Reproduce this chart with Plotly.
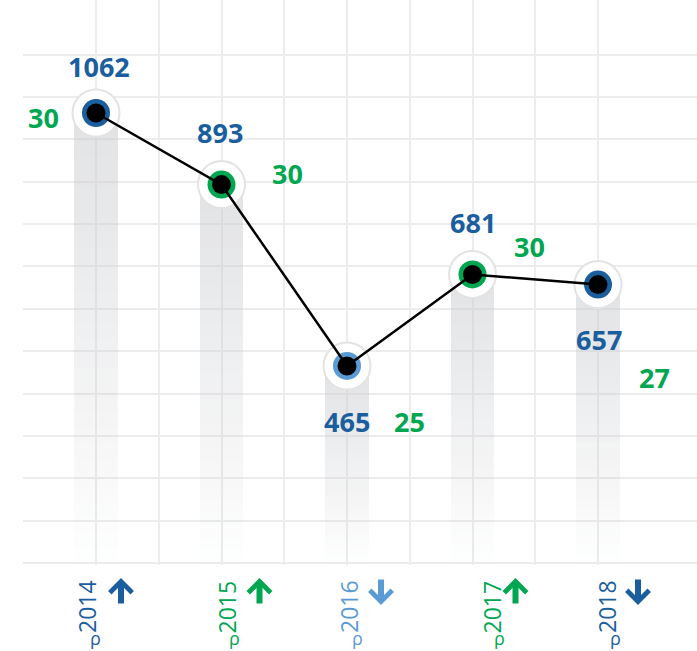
import plotly.graph_objects as go

# ---------------- data ----------------
years = ["2014", "2015", "2016", "2017", "2018"]
values = [1062, 893, 465, 681, 657]
green_values = [30, 30, 25, 30, 27]
trend = ["up", "up", "down", "up", "down"]
grid_y = [0, 100, 200, 300, 400, 500, 600, 700, 800, 900, 1000, 1100, 1200]

# ---------------- style ----------------
DARK = "#1b5e9e"
GREEN = "#00a650"
LIGHT = "#5b9bd5"
point_colors = [DARK, GREEN, LIGHT, GREEN, DARK]
value_off = [(3, -47), (-2, -52), (0, 56), (0, -52), (1, 55)]
green_off = [(-53, 4), (66, -11), (62, 56), (57, -28), (56, 93)]
year_dx = [-9, 5, 2, 19, 9]
arrow_dx = [25, 38, 34, 43, 40]
FONT = "Open Sans"
W, H = 697, 651
ML, MB = 23, 86
PX_PER_CAT = 125.5
X0_PIX = 96
PX_PER_UNIT = 0.42373
ZERO_PIX = 563

xs = list(range(len(years)))
fig = go.Figure()

# gradient columns (stacked segments, light at bottom -> gray at top)
N = 30
for k in range(N):
    t = (k + 0.5) / N
    a = 0.02 + 0.52 * t
    fig.add_trace(go.Bar(
        x=xs, y=[v / N for v in values], base=[v * k / N for v in values],
        width=0.35, marker=dict(color=f"rgba(200,202,206,{a:.3f})", line=dict(width=0)),
        hoverinfo="skip", showlegend=False))

# halo
fig.add_trace(go.Scatter(x=xs, y=values, mode="markers",
                         marker=dict(size=47, color="white", line=dict(color="#e3e3e3", width=2)),
                         hoverinfo="skip", showlegend=False))
# coloured ring
fig.add_trace(go.Scatter(x=xs, y=values, mode="markers",
                         marker=dict(size=28, color=point_colors, line=dict(width=0)),
                         hoverinfo="skip", showlegend=False))
# connecting line
fig.add_trace(go.Scatter(x=xs, y=values, mode="lines",
                         line=dict(color="black", width=2.5),
                         hoverinfo="skip", showlegend=False))
# black centre
fig.add_trace(go.Scatter(x=xs, y=values, mode="markers",
                         marker=dict(size=19, color="black", line=dict(width=0)),
                         hoverinfo="skip", showlegend=False))

ann = []
for i, (yr, v, g, tr, c) in enumerate(zip(years, values, green_values, trend, point_colors)):
    dx, dy = value_off[i]
    ann.append(dict(x=i, y=v, xref="x", yref="y", text=str(v), showarrow=False,
                    xshift=dx, yshift=-dy, xanchor="center", yanchor="middle",
                    font=dict(family=FONT, size=27, color=DARK, weight=700)))
    gx, gy = green_off[i]
    ann.append(dict(x=i, y=v, xref="x", yref="y", text=str(g), showarrow=False,
                    xshift=gx, yshift=-gy, xanchor="center", yanchor="middle",
                    font=dict(family=FONT, size=27, color=GREEN, weight=700)))
    # year label (rotated)
    ann.append(dict(x=i, y=0, xref="x", yref="paper", text=yr, showarrow=False,
                    textangle=-90, xshift=year_dx[i], yshift=-42,
                    xanchor="center", yanchor="middle",
                    font=dict(family=FONT, size=23, color=c)))
    ann.append(dict(x=i, y=0, xref="x", yref="paper", text="ρ", showarrow=False,
                    xshift=year_dx[i] + 8, yshift=-73,
                    xanchor="center", yanchor="middle",
                    font=dict(family=FONT, size=18, color=c)))
    # trend arrow
    if tr == "up":
        ann.append(dict(x=i, y=0, xref="x", yref="paper", text="", showarrow=True,
                        ax=0, ay=27, axref="pixel", ayref="pixel",
                        xshift=arrow_dx[i], yshift=-13,
                        arrowhead=4, arrowsize=0.72, arrowwidth=6, arrowcolor=c, standoff=0))
    else:
        ann.append(dict(x=i, y=0, xref="x", yref="paper", text="", showarrow=True,
                        ax=0, ay=-27, axref="pixel", ayref="pixel",
                        xshift=arrow_dx[i], yshift=-40,
                        arrowhead=4, arrowsize=0.72, arrowwidth=6, arrowcolor=c, standoff=0))

r0 = -(X0_PIX - ML) / PX_PER_CAT
r1 = r0 + (W - ML) / PX_PER_CAT
plot_h = H - MB
y_lo = -(plot_h - ZERO_PIX) / PX_PER_UNIT
y_hi = ZERO_PIX / PX_PER_UNIT

fig.update_layout(
    width=W, height=H,
    margin=dict(l=ML, r=0, t=0, b=MB, pad=0),
    paper_bgcolor="white", plot_bgcolor="white",
    barmode="overlay", bargap=0,
    showlegend=False,
    annotations=ann,
    xaxis=dict(range=[r0, r1], tickmode="array", tickvals=[0, 0.5, 1, 1.5, 2, 2.5, 3, 3.5, 4],
               showticklabels=False, showgrid=True, gridcolor="#ececec", gridwidth=2,
               zeroline=False, showline=False, ticks="", fixedrange=True),
    yaxis=dict(range=[y_lo, y_hi], tickmode="array", tickvals=grid_y,
               showticklabels=False, showgrid=True, gridcolor="#ececec", gridwidth=2,
               zeroline=False, showline=False, ticks="", fixedrange=True),
)

fig.write_html("out.html", config={"displayModeBar": False},
               post_script="document.body.style.margin='0';document.body.style.padding='0';"
                           "document.body.style.overflow='hidden';")
